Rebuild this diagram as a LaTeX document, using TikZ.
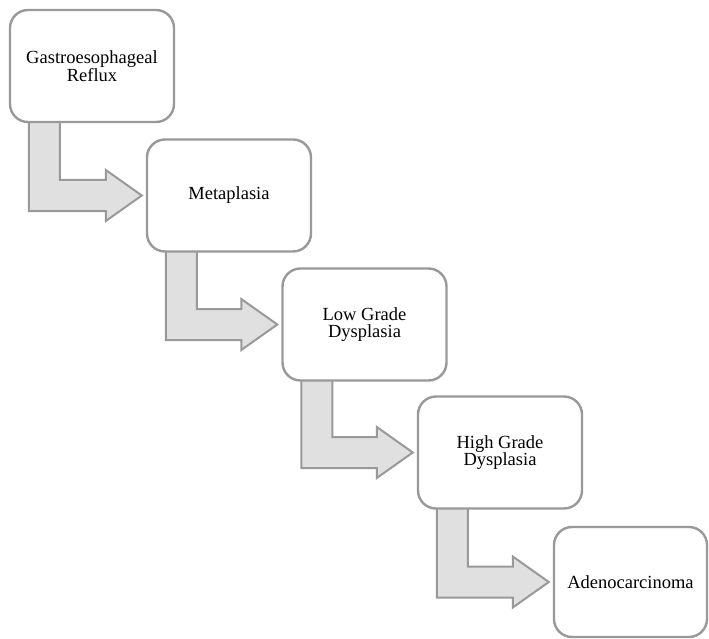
\documentclass[tikz,border=0pt]{standalone}
\usepackage{fontspec}
\setmainfont{Liberation Serif}
\usetikzlibrary{calc,backgrounds}

\begin{document}
\begin{tikzpicture}[x=1pt, y=-1pt,
    stage/.style={draw=black!40, line width=2.4pt, fill=white, rounded corners=18pt,
        minimum width=164pt, minimum height=112pt, align=center, inner sep=0pt,
        font=\fontsize{18.5}{17}\selectfont},
    bentarrow/.style={draw=black!40, line width=2pt, fill=black!12, line join=miter}]
    \useasboundingbox (0,0) rectangle (709,639);
    % stages
    \node[stage] (gerd)  at (92,66)    {Gastroesophageal\\Reflux};
    \node[stage] (meta)  at (229,195.5) {Metaplasia};
    \node[stage] (lgd)   at (364.5,324.5) {Low Grade\\Dysplasia};
    \node[stage] (hgd)   at (500,452.5) {High Grade\\Dysplasia};
    \node[stage, minimum width=153pt, minimum height=110pt] (adeno) at (630.5,582) {Adenocarcinoma};
    % bent arrows between stages
    \begin{scope}[on background layer]
    \foreach \a/\b in {gerd/meta, meta/lgd, lgd/hgd, hgd/adeno}{
        \draw[bentarrow] ($(\a.south west)+(20,-4)$) coordinate (s)
            -- ($(s |- \b.west)+(0,15.5)$)
            -- ($(\b.west)+(-40,15.5)$)
            -- ($(\b.west)+(-40,25.5)$)
            -- ($(\b.west)+(-4,0)$)
            -- ($(\b.west)+(-40,-25.5)$)
            -- ($(\b.west)+(-40,-15.5)$)
            -- ($(s |- \b.west)+(31,-15.5)$)
            -- ($(s)+(31,0)$) -- cycle;
    }
    \end{scope}
\end{tikzpicture}
\end{document}
